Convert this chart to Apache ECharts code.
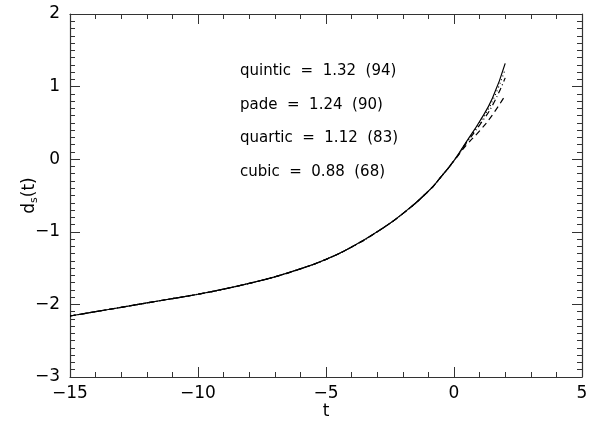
<!DOCTYPE html>
<html>
<head>
<meta charset="utf-8">
<script src="https://cdn.jsdelivr.net/npm/echarts@6/dist/echarts.min.js"></script>
<style>
  html, body { margin: 0; padding: 0; background: #fff; }
  #chart { width: 597px; height: 424px; }
</style>
</head>
<body>
<div id="chart"></div>
<script>
// t values and the shared part of d_s(t) (all fits overlap up to t=0)
var tVals = [-15, -14, -13, -12, -11, -10, -9, -8, -7, -6, -5, -4, -3, -2, -1, -0.5, 0, 0.5, 1, 1.5, 2];
var shared = [-2.16, -2.10, -2.04, -1.98, -1.92, -1.86, -1.79, -1.71, -1.62, -1.51, -1.38, -1.21, -1.00, -0.75, -0.44, -0.24, -0.02];
// where they split apart (t = 0.5, 1, 1.5, 2)
var quinticTail = [0.25, 0.52, 0.84, 1.32];
var padeTail    = [0.24, 0.50, 0.80, 1.24];
var quarticTail = [0.23, 0.47, 0.74, 1.12];
var cubicTail   = [0.20, 0.39, 0.61, 0.88];
var labels = ['quintic  =  1.32  (94)', 'pade  =  1.24  (90)', 'quartic  =  1.12  (83)', 'cubic  =  0.88  (68)'];

function pairs(tail) {
  var ys = shared.concat(tail);
  return tVals.map(function (t, i) { return [t, ys[i]]; });
}

var FONT = 'DejaVu Sans';
var axisCol = '#333';

function xAxis(pos, show) {
  return {
    type: 'value', position: pos, min: -15, max: 5, interval: 5,
    axisLine: { onZero: false, lineStyle: { color: axisCol, width: 1.2 } },
    axisTick: { inside: true, length: 10, lineStyle: { color: axisCol } },
    minorTick: { show: true, splitNumber: 5, length: 5, lineStyle: { color: axisCol } },
    axisLabel: { show: show, color: '#000', fontFamily: FONT, fontSize: 17, margin: 8,
      formatter: function (v) { return String(v).replace('-', '\u2212'); } },
    splitLine: { show: false },
    name: show ? 't' : '', nameLocation: 'middle', nameGap: 26, nameMoveOverlap: false,
    nameTextStyle: { color: '#000', fontFamily: FONT, fontSize: 17 }
  };
}
function yAxis(pos, show) {
  return {
    type: 'value', position: pos, min: -3, max: 2, interval: 1,
    axisLine: { onZero: false, lineStyle: { color: axisCol, width: 1.2 } },
    axisTick: { inside: true, length: 10, lineStyle: { color: axisCol } },
    minorTick: { show: true, splitNumber: 10, length: 5, lineStyle: { color: axisCol } },
    axisLabel: { show: show, color: '#000', fontFamily: FONT, fontSize: 17, margin: 10,
      formatter: function (v) { return String(v).replace('-', '\u2212'); } },
    splitLine: { show: false },
    name: show ? '{d|d}{s|s}{d|(t)}' : '', nameLocation: 'middle', nameGap: 30, nameRotate: 90,
    nameMoveOverlap: false,
    nameTextStyle: { rich: {
      d: { color: '#000', fontFamily: FONT, fontSize: 17 },
      s: { color: '#000', fontFamily: FONT, fontSize: 11, padding: [10, 0, 0, 0] }
    } }
  };
}

function line(name, tail, type) {
  return {
    name: name, type: 'line', data: pairs(tail), smooth: true, showSymbol: false,
    xAxisIndex: 0, yAxisIndex: 0,
    lineStyle: { color: '#000', width: 1.2, type: type }
  };
}

var chart = echarts.init(document.getElementById('chart'));
chart.setOption({
  backgroundColor: '#fff',
  animation: false,
  grid: { left: 70, right: 15, top: 14, bottom: 47, outerBoundsMode: 'none' },
  xAxis: [xAxis('bottom', true), xAxis('top', false)],
  yAxis: [yAxis('left', true), yAxis('right', false)],
  series: [
    line('quintic', quinticTail, 'solid'),
    line('pade', padeTail, [1, 3]),
    line('quartic', quarticTail, [6, 3, 1, 3]),
    line('cubic', cubicTail, [6, 4])
  ],
  graphic: labels.map(function (txt, i) {
    return {
      type: 'text', left: 240, top: 64 + i * 33.5,
      style: { text: txt, fill: '#000', font: '15px "DejaVu Sans"' }
    };
  })
});
</script>
</body>
</html>
